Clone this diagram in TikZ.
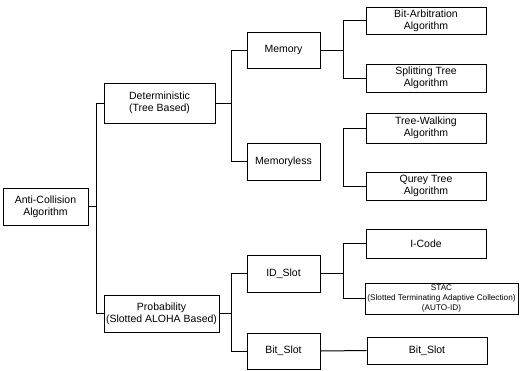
\documentclass[tikz,border=0pt]{standalone}
\usepackage{fontspec}
\setmainfont{Liberation Sans}
\begin{document}
\begin{tikzpicture}[x=1pt,y=-1pt,
  box/.style={draw=black, line width=0.8pt, fill=white, align=center, inner sep=0pt,
    font=\fontsize{10.5}{12}\selectfont},
  small/.style={font=\fontsize{8.2}{10}\selectfont},
  conn/.style={draw=black, line width=1pt}]
\useasboundingbox (0,0) rectangle (521,370);
% nodes
\node[box, minimum width=85pt, minimum height=37pt] (ac) at (45.5,206.5) {Anti-Collision\\Algorithm};
\node[box, minimum width=111pt, minimum height=40pt] (det) at (159.5,103) {Deterministic\\(Tree Based)};
\node[box, minimum width=115pt, minimum height=37pt] (prob) at (161.5,313.5) {Probability\\(Slotted ALOHA Based)};
\node[box, minimum width=73pt, minimum height=36pt] (mem) at (283.5,50) {Memory};
\node[box, minimum width=73pt, minimum height=37pt] (meml) at (283.5,161.5) {Memoryless};
\node[box, minimum width=73pt, minimum height=37pt] (ids) at (283.5,273.5) {ID\_Slot};
\node[box, minimum width=73pt, minimum height=36pt] (bits) at (283.5,351) {Bit\_Slot};
\node[box, minimum width=120pt, minimum height=27pt] (ba) at (426,20.5) {Bit-Arbitration\\Algorithm};
\node[box, minimum width=120pt, minimum height=28pt] (st) at (426,78) {Splitting Tree\\Algorithm};
\node[box, minimum width=120pt, minimum height=30pt] (tw) at (426,128) {Tree-Walking\\Algorithm};
\node[box, minimum width=120pt, minimum height=28pt] (qt) at (426,186) {Qurey Tree\\Algorithm};
\node[box, minimum width=120pt, minimum height=29pt] (ic) at (426,243.5) {I-Code};
\node[box, small, minimum width=153pt, minimum height=31pt] (stac) at (441.5,298.5) {STAC\\(Slotted Terminating Adaptive Collection)\\(AUTO-ID)};
\node[box, minimum width=120pt, minimum height=27pt] (bs2) at (427,350.5) {Bit\_Slot};
% trunk coordinates
\coordinate (t1) at (96,0);
\coordinate (t2) at (231,0);
\coordinate (t3) at (343,0);
% connectors
\draw[conn] (ac.east) -- (ac.east -| t1);
\draw[conn] (det.west) -- (det.west -| t1) -- (prob.west -| t1) -- (prob.west);
\draw[conn] (det.east) -- (det.east -| t2);
\draw[conn] (mem.west) -- (mem.west -| t2) -- (meml.west -| t2) -- (meml.west);
\draw[conn] (prob.east) -- (prob.east -| t2);
\draw[conn] (ids.west) -- (ids.west -| t2) -- (bits.west -| t2) -- (bits.west);
\draw[conn] (mem.east) -- (mem.east -| t3);
\draw[conn] (ba.west) -- (ba.west -| t3) -- (st.west -| t3) -- (st.west);
\draw[conn] (tw.west) -- (tw.west -| t3) -- (qt.west -| t3) -- (qt.west);
\draw[conn] (ids.east) -- (ids.east -| t3);
\draw[conn] (ic.west) -- (ic.west -| t3) -- (stac.west -| t3) -- (stac.west);
\draw[conn] (bits.east) -- (bs2.west);
\end{tikzpicture}
\end{document}
